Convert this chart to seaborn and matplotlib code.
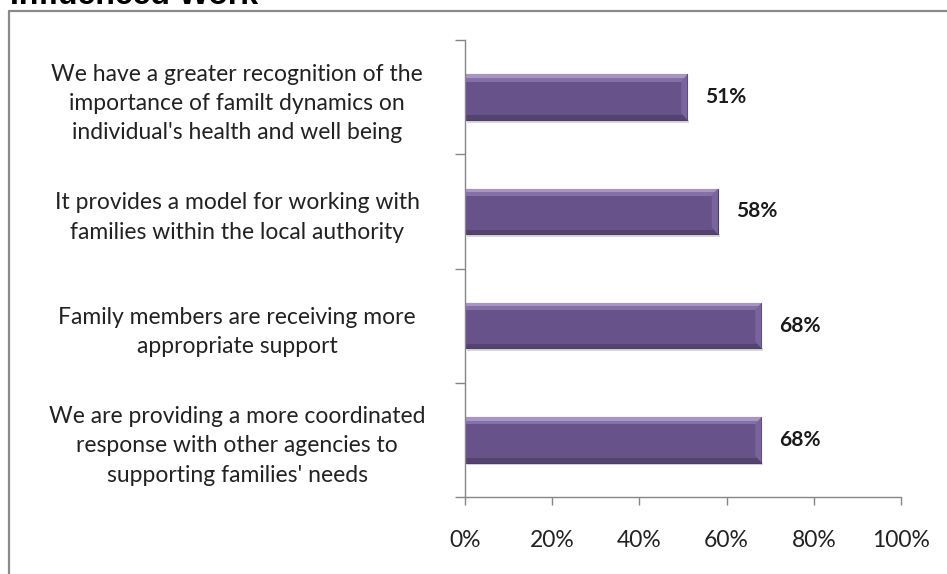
import matplotlib
matplotlib.use("Agg")
import matplotlib.pyplot as plt
import seaborn as sns
import pandas as pd
from matplotlib.lines import Line2D
from matplotlib.patches import Rectangle, Polygon
from matplotlib.ticker import FixedLocator, PercentFormatter

categories = [
    "We have a greater recognition of the\nimportance of familt dynamics on\nindividual's health and well being",
    "It provides a model for working with\nfamilies within the local authority",
    "Family members are receiving more\nappropriate support",
    "We are providing a more coordinated\nresponse with other agencies to\nsupporting families' needs",
]
values = [51, 58, 68, 68]
value_labels = ["51%", "58%", "68%", "68%"]
x_ticks = [0, 20, 40, 60, 80, 100]
title = "Influenced Work"

sns.set_theme(style="white")
plt.rcParams["font.family"] = ["Lato", "DejaVu Sans"]

df = pd.DataFrame({"category": categories, "value": values})

W, H = 947, 574
fig = plt.figure(figsize=(W / 100, H / 100), dpi=100)
fig.patch.set_facecolor("white")
ax = fig.add_axes([465 / W, 1 - 497 / H, (901 - 465) / W, (497 - 40) / H])

bar_color = "#67528a"
sns.barplot(data=df, x="value", y="category", orient="h", color=bar_color,
            width=0.4, saturation=1, edgecolor="#4d3d6a", linewidth=0.8, ax=ax)

# bevelled look on each bar: light top rim, darker bottom rim, lit ends
for p in list(ax.patches):
    x0, y0 = p.get_x(), p.get_y()
    w, h = p.get_width(), p.get_height()
    z = p.get_zorder()
    # y axis is inverted: y0 is the visual top edge
    ax.add_patch(Rectangle((x0, y0), w, h * 0.08, facecolor="#a895c4",
                           edgecolor="none", zorder=z + 0.1))
    ax.add_patch(Rectangle((x0, y0 + h * 0.08), w, h * 0.08, facecolor="#8570a8",
                           edgecolor="none", zorder=z + 0.1))
    ax.add_patch(Rectangle((x0, y0 + h * 0.9), w, h * 0.1, facecolor="#54426f",
                           edgecolor="none", zorder=z + 0.1))
    bev = 1.4
    ax.add_patch(Polygon([(x0 + w, y0), (x0 + w, y0 + h), (x0 + w - bev, y0 + h * 0.85),
                          (x0 + w - bev, y0 + h * 0.15)], closed=True,
                         facecolor="#7a64a0", edgecolor="none", zorder=z + 0.2))
    # faint shadow beneath the bar
    ax.add_patch(Rectangle((x0 + 0.4, y0 + h), w, h * 0.06, facecolor="#d8d8d8",
                           edgecolor="none", zorder=z - 0.1))

ax.bar_label(ax.containers[0], labels=value_labels, padding=13,
             fontsize=15, fontweight="bold", color="#1a1a1a")

ax.set_xlim(0, 100)
ax.set_ylim(len(categories) - 0.5, -0.5)
ax.set_xlabel("")
ax.set_ylabel("")

ax.xaxis.set_major_locator(FixedLocator(x_ticks))
ax.xaxis.set_major_formatter(PercentFormatter(decimals=0))
ax.tick_params(axis="x", which="major", direction="out", length=6, width=1,
               color="#868686", pad=18, labelsize=16.5, labelcolor="#222222", bottom=True)

# category boundaries carry the tick marks, centers carry the labels
ax.set_yticks([i - 0.5 for i in range(len(categories) + 1)], [""] * (len(categories) + 1))
ax.set_yticks(list(range(len(categories))), categories, minor=True)
ax.tick_params(axis="y", which="major", direction="out", length=7, width=1,
               color="#868686", left=True)
ax.tick_params(axis="y", which="minor", length=0, pad=164, labelsize=16.5,
               labelcolor="#222222", left=True)
for lbl in ax.get_yticklabels(minor=True):
    lbl.set_horizontalalignment("center")
    lbl.set_multialignment("center")
    lbl.set_linespacing(1.48)

for side in ["top", "right"]:
    ax.spines[side].set_visible(False)
for side in ["left", "bottom"]:
    ax.spines[side].set_color("#868686")
    ax.spines[side].set_linewidth(1)

# outer chart frame and the heading above it
fig.add_artist(Line2D([9 / W, 9 / W], [0, 1 - 11 / H], transform=fig.transFigure,
                      color="#8a8a8a", linewidth=1.6))
fig.add_artist(Line2D([9 / W, 1], [1 - 11 / H, 1 - 11 / H], transform=fig.transFigure,
                      color="#8a8a8a", linewidth=1.6))
fig.text(10 / W, 1 - 4 / H, title, fontsize=23, fontweight="bold",
         family=["Liberation Sans", "DejaVu Sans"], va="baseline", ha="left", color="black")

fig.savefig("out.png", dpi=100, facecolor="white")
